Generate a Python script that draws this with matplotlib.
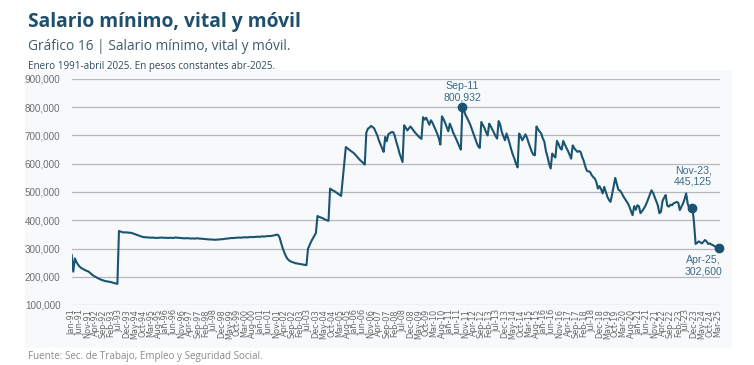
import numpy as np
import matplotlib.pyplot as plt
from matplotlib.ticker import FuncFormatter
from matplotlib.patches import Rectangle

s1991 = [277, 218, 265, 252, 243, 236, 231, 228, 225, 222, 220, 217]
s1992 = [212, 207, 203, 200, 197, 194, 191, 189, 187, 185, 184, 183]
s1993 = [182, 181, 179, 178, 176, 175, 362, 360, 358, 357, 357, 357]
s1994 = [356, 356, 355, 353, 351, 349, 347, 345, 343, 341, 340, 340]
s1995 = [339, 339, 338, 339, 338, 338, 337, 338, 338, 339, 338, 338]
s1996 = [338, 337, 338, 338, 337, 338, 339, 338, 338, 337, 337, 336]
s1997 = [336, 337, 336, 336, 335, 336, 335, 336, 336, 335, 335, 334]
s1998 = [334, 333, 333, 332, 332, 332, 331, 331, 331, 332, 332, 333]
s1999 = [333, 334, 335, 335, 336, 337, 337, 337, 338, 338, 339, 338]
s2000 = [339, 339, 340, 339, 340, 340, 341, 340, 341, 341, 342, 341]
s2001 = [342, 343, 342, 343, 344, 344, 344, 345, 346, 347, 349, 348]
s2002 = [338, 318, 300, 285, 272, 263, 258, 254, 252, 250, 248, 247]
s2003 = [246, 245, 244, 243, 242, 241, 300, 312, 325, 335, 345, 355]
s2004 = [415, 412, 410, 408, 405, 402, 400, 398, 512, 508, 505, 502]
s2005 = [498, 494, 490, 486, 545, 602, 659, 655, 650, 646, 642, 638]
s2006 = [632, 626, 619, 613, 608, 603, 597, 710, 724, 728, 734, 730]
s2007 = [725, 712, 700, 682, 668, 655, 642, 695, 680, 705, 708, 712]
s2008 = [712, 700, 678, 660, 638, 622, 606, 736, 728, 718, 725, 732]
s2009 = [725, 717, 710, 704, 698, 692, 688, 765, 756, 763, 750, 738]
s2010 = [754, 745, 732, 720, 706, 690, 668, 768, 758, 745, 730, 715]
s2011 = [742, 728, 712, 700, 688, 675, 662, 650, 800.932, 788, 772, 762]
s2012 = [750, 738, 722, 705, 690, 675, 662, 656, 748, 737, 726, 712]
s2013 = [700, 742, 732, 721, 710, 698, 689, 751, 738, 712, 698, 683]
s2014 = [707, 690, 671, 650, 632, 618, 600, 587, 707, 696, 683, 693]
s2015 = [704, 692, 674, 658, 643, 632, 630, 732, 722, 714, 707, 690]
s2016 = [678, 645, 625, 600, 583, 636, 628, 622, 681, 670, 656, 650]
s2017 = [681, 668, 656, 645, 632, 618, 665, 655, 648, 642, 645, 642]
s2018 = [624, 610, 590, 575, 573, 571, 560, 553, 548, 535, 512, 521]
s2019 = [510, 495, 518, 500, 483, 472, 465, 492, 522, 550, 528, 508]
s2020 = [505, 497, 486, 477, 468, 460, 448, 432, 418, 450, 437, 453]
s2021 = [450, 425, 432, 440, 450, 462, 477, 492, 506, 497, 483, 468]
s2022 = [453, 425, 430, 468, 480, 489, 452, 448, 455, 453, 460, 462]
s2023 = [465, 462, 436, 448, 459, 475, 495, 458, 442, 448, 445.125, 390]
s2024 = [316, 320, 325, 322, 318, 324, 330, 325, 316, 318, 314, 312]
s2025 = [308, 306, 305, 302.6]

anios = list(range(1991, 2026))
meses = ['Jan', 'Feb', 'Mar', 'Apr', 'May', 'Jun',
         'Jul', 'Aug', 'Sep', 'Oct', 'Nov', 'Dec']

series = [s1991, s1992, s1993, s1994, s1995, s1996, s1997, s1998, s1999,
          s2000, s2001, s2002, s2003, s2004, s2005, s2006, s2007, s2008,
          s2009, s2010, s2011, s2012, s2013, s2014, s2015, s2016, s2017,
          s2018, s2019, s2020, s2021, s2022, s2023, s2024, s2025]
salario = np.concatenate([np.array(s, dtype=float) for s in series]) * 1000
fechas = [f"{meses[k]}-{str(a)[2:]}" for a, s in zip(anios, series) for k in range(len(s))]

destacados = ['Sep-11', 'Nov-23', 'Apr-25']

azul = '#1b5470'
texto_anot = '#3d6b86'

fig = plt.figure(figsize=(7.54, 3.65), dpi=100)
fig.patch.set_facecolor('white')
fig.patches.append(Rectangle((25 / 754, 1 - 348 / 365), 707 / 754, 278 / 365,
                             transform=fig.transFigure, facecolor='#f7f9fb',
                             edgecolor='none', zorder=-10))

ax = fig.add_axes([71.7 / 754, 1 - 305 / 365, 648.8 / 754, 226 / 365])
ax.set_facecolor('none')

x = np.arange(len(salario))
ax.plot(x, salario, color=azul, linewidth=1.5, zorder=3)

ax.set_xlim(0, 411.8)
ax.set_ylim(100000, 900000)
ax.set_yticks(np.arange(100000, 900001, 100000))
ax.yaxis.set_major_formatter(FuncFormatter(lambda v, p: f"{int(v):,}"))
ax.grid(axis='y', color='#b5b8bc', linewidth=0.9, zorder=1)
ax.tick_params(axis='y', length=0, pad=8, labelsize=7.1, labelcolor='#6f6f6f')
for lbl in ax.get_yticklabels():
    lbl.set_family('Liberation Sans')

ax.set_xticks(x[::5])
ax.set_xticklabels(fechas[::5], rotation=90, fontsize=5.9, color='#666666',
                   family='DejaVu Sans')
ax.tick_params(axis='x', length=0, pad=3)
for sp in ax.spines.values():
    sp.set_visible(False)

# puntos destacados
anot = dict(textcoords='offset points', fontsize=7.6, color=texto_anot,
            family='Liberation Sans', linespacing=1.15, ha='center')
for f in destacados:
    i = fechas.index(f)
    v = salario[i]
    ax.plot(i, v, 'o', color=azul, markersize=6, zorder=4, clip_on=False)
    if f == 'Sep-11':
        ax.annotate(f"{f}\n{v:,.0f}", (i, v), xytext=(0, 3.5), va='bottom', **anot)
    elif f == 'Nov-23':
        ax.annotate(f"{f},\n{v:,.0f}", (i, v), xytext=(0.5, 15), va='bottom', **anot)
    else:
        ax.annotate(f"{f},\n{v:,.0f}", (i, v), xytext=(-11.5, -5.5), va='top', **anot)

# titulos
fig.text(28 / 754, 1 - 22 / 365, 'Salario mínimo, vital y móvil', fontsize=13.9,
         fontweight='bold', color='#1f4f6c', family='Open Sans', va='center')
fig.text(28 / 754, 1 - 47 / 365, 'Gráfico 16 | Salario mínimo, vital y móvil.',
         fontsize=9.95, color='#3e5b6d', family='Open Sans', va='center')
fig.text(28 / 754, 1 - 66 / 365, 'Enero 1991-abril 2025. En pesos constantes abr-2025.',
         fontsize=7.1, color='#2c4a5c', family='Open Sans', va='center')
fig.text(28 / 754, 1 - 357 / 365, 'Fuente: Sec. de Trabajo, Empleo y Seguridad Social.',
         fontsize=7.1, color='#8a8a8a', family='Open Sans', va='center')

fig.savefig('out.png', dpi=100)
